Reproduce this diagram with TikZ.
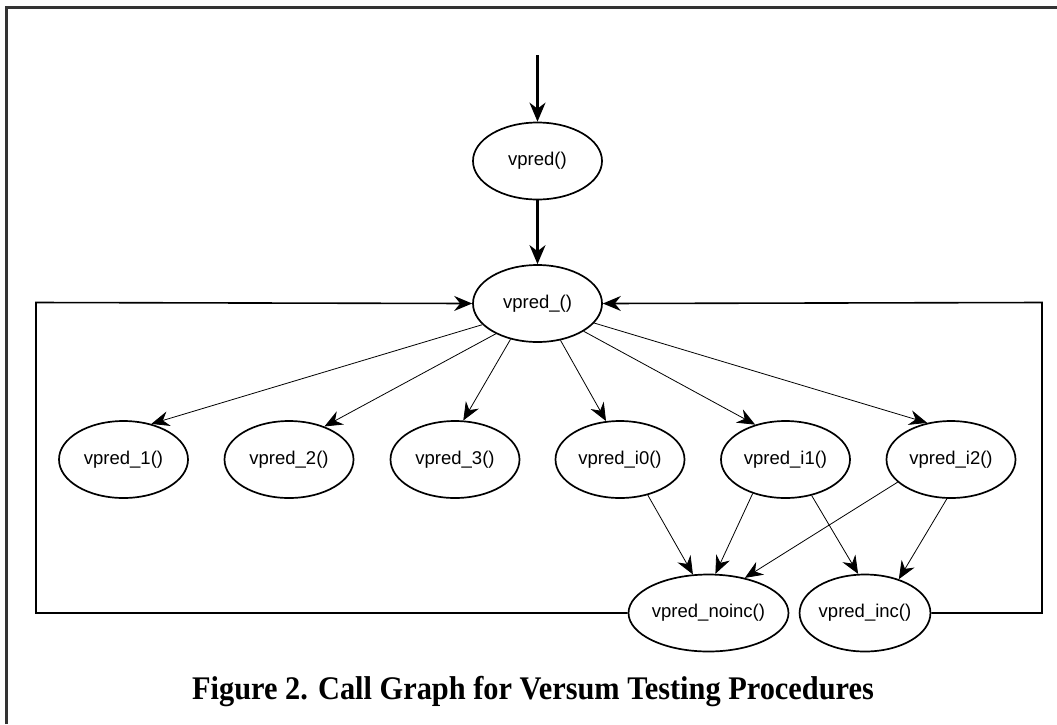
\documentclass[tikz,border=0pt]{standalone}
\usepackage{fontspec}
\setmainfont{Liberation Serif}
\newfontfamily\nodefont{Liberation Sans}
\usetikzlibrary{arrows.meta,shapes.geometric}

\tikzset{
  fn/.style={ellipse, draw, line width=1.7pt, minimum width=129pt, minimum height=77pt,
             inner sep=0pt, font=\nodefont\fontsize{18.5}{20}\selectfont},
  mainflow/.style={-{Stealth[length=19pt,width=16pt,inset=6pt]}, line width=2.1pt},
  call/.style={-{Stealth[length=18pt,width=15pt,inset=6pt]}, line width=0.8pt},
  loop/.style={-{Stealth[length=18pt,width=15pt,inset=6pt]}, line width=1.6pt},
  frame/.style={line width=2.4pt, draw=black!80},
}

\begin{document}
\begin{tikzpicture}[x=1pt,y=-1pt]
  \useasboundingbox (0,0) rectangle (1057,724);

  % page frame (left and top edges)
  \draw[frame] (6.5,724) -- (6.5,7.5) -- (1057,7.5);

  % procedures
  \node[fn] (vpred) at (537.5,161)   {vpred()};
  \node[fn] (vp)    at (537.5,303.5) {vpred\_()};
  \node[fn] (n1)    at (123.5,459.5) {vpred\_1()};
  \node[fn] (n2)    at (289,459.5)   {vpred\_2()};
  \node[fn] (n3)    at (455,459.5)   {vpred\_3()};
  \node[fn] (i0)    at (620,459.5)   {vpred\_i0()};
  \node[fn] (i1)    at (785.5,459.5) {vpred\_i1()};
  \node[fn] (i2)    at (951,459.5)   {vpred\_i2()};
  \node[fn] (noinc) at (708.5,613)   {vpred\_noinc()};
  \node[fn] (inc)   at (865,613)     {vpred\_inc()};

  % entry and main call
  \coordinate (entry) at (537.5,55);
  \draw[mainflow] (entry) -- (vpred);
  \draw[mainflow] (vpred) -- (vp);

  % calls from vpred_()
  \draw[call] (vp.-159)   -- (n1.52);
  \draw[call] (vp.-144)   -- (n2.43);
  \draw[call] (vp.-127.5) -- (n3.78);
  \draw[call] (vp.-58)    -- (i0.110);
  \draw[call] (vp.-31)    -- (i1.131);
  \draw[call] (vp.-19)    -- (i2.123);

  % calls into the increment helpers
  \draw[call] (i0.-52)  -- (noinc.112);
  \draw[call] (i1.-134) -- (noinc.80);
  \draw[call] (i2.-157) -- (noinc.44);
  \draw[call] (i1.-54)  -- (inc.100);
  \draw[call] (i2.-96)  -- (inc.45);

  % recursion back to vpred_()
  \coordinate (lb) at (36,613);
  \coordinate (lt) at (36,302.5);
  \coordinate (rb) at (1042,613);
  \coordinate (rt) at (1042,302.5);
  \draw[loop] (noinc.west) -- (lb) -- (lt) -- (vp.west);
  \draw[loop] (inc.east) -- (rb) -- (rt) -- (vp.east);

  % caption
  \node[anchor=base, font=\bfseries\fontsize{33}{36}\selectfont] (caption) at (533,699)
    {\scalebox{0.92}[1]{Figure 2. Call Graph for Versum Testing Procedures}};
\end{tikzpicture}
\end{document}
